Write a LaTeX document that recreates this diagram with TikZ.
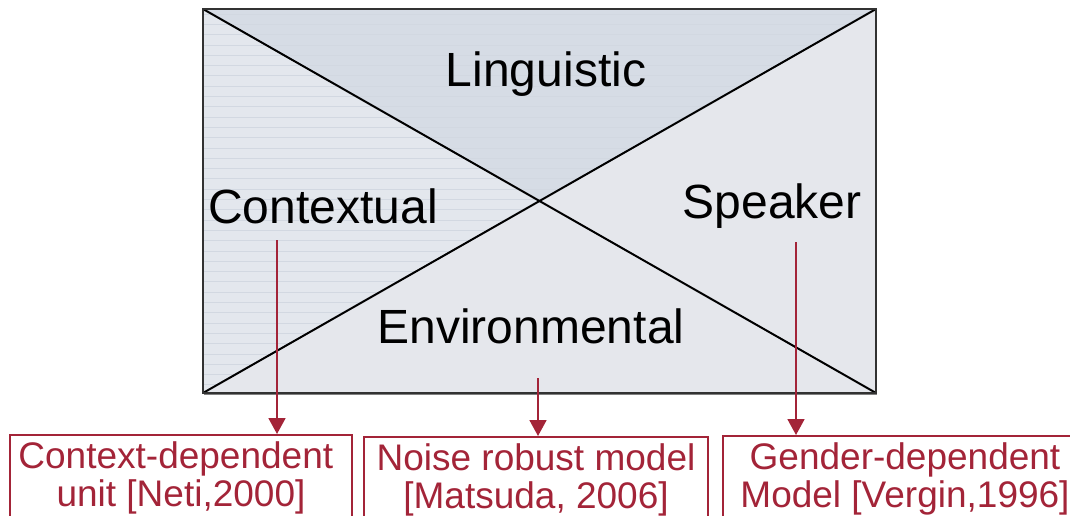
\documentclass[tikz,border=0pt]{standalone}
\usepackage{fontspec}
\setmainfont{Liberation Sans}
\usetikzlibrary{arrows.meta}
\definecolor{refred}{RGB}{163,36,56}
\definecolor{topfill}{RGB}{214,220,229}
\definecolor{leftfill}{RGB}{227,231,237}
\definecolor{plainfill}{RGB}{229,231,236}
\definecolor{ruling}{RGB}{210,216,225}
\definecolor{frame}{RGB}{50,50,50}
\begin{document}
\begin{tikzpicture}[x=1pt,y=-1pt,
  factor/.style={font=\fontsize{48}{58}\selectfont, anchor=base, inner sep=0pt},
  refbox/.style={draw=refred, line width=1.6pt, text=refred,
    font=\fontsize{37}{38}\selectfont, align=center, anchor=north,
    inner xsep=0pt, inner ysep=0pt, text height=72pt, text depth=40pt},
  link/.style={draw=refred, line width=1.8pt, -{Triangle[width=17pt,length=16pt]}},
  diag/.style={draw=black, line width=2pt}]
\useasboundingbox (0,0) rectangle (1070,516);
\clip (0,0) rectangle (1070,516);

% corners of the factor square and the crossing of its diagonals
\coordinate (A) at (203,9);
\coordinate (B) at (876,9);
\coordinate (C) at (876,393);
\coordinate (D) at (203,393);
\coordinate (O) at (539.5,201);

% four triangular sectors
\fill[topfill] (A) -- (B) -- (O) -- cycle;
\fill[leftfill] (A) -- (O) -- (D) -- cycle;
\fill[plainfill] (B) -- (C) -- (O) -- cycle;
\fill[plainfill] (D) -- (O) -- (C) -- cycle;

% faint horizontal ruling in the upper and left sectors
\begin{scope}
  \clip (A) -- (B) -- (O) -- (D) -- cycle;
  \foreach \i in {0,...,37}
    \draw[ruling, line width=0.7pt] (203,{14+10.3*\i}) -- (876,{14+10.3*\i});
\end{scope}

% diagonals and frame
\draw[diag] (A) -- (C);
\draw[diag] (B) -- (D);
\draw[frame, line width=1.8pt] (A) rectangle (C);
\draw[gray, line width=1pt] (204,394.5) -- (877,394.5);

% factor names
\node[factor] (ling) at (546,87) {Linguistic};
\node[factor] (ctx) at (323,223) {Contextual};
\node[factor] (spk) at (772,218) {Speaker};
\node[factor] (env) at (531,343) {Environmental};

% reference boxes
\node[refbox, minimum width=342pt] (box1) at (181,434)
  {Context-dependent\kern0.28em\\unit [Neti,2000]};
\node[refbox, minimum width=344pt] (box2) at (536,436)
  {Noise robust model\\{}[Matsuda, 2006]};
\node[refbox, minimum width=364pt] (box3) at (905,435)
  {Gender-dependent\\Model [Vergin,1996]};

% arrows from factors to references
\coordinate (s1) at (277,240);
\coordinate (s2) at (538,378);
\coordinate (s3) at (796,242);
\draw[link] (s1) -- (s1 |- box1.north);
\draw[link] (s2) -- (s2 |- box2.north);
\draw[link] (s3) -- (s3 |- box3.north);
\end{tikzpicture}
\end{document}
